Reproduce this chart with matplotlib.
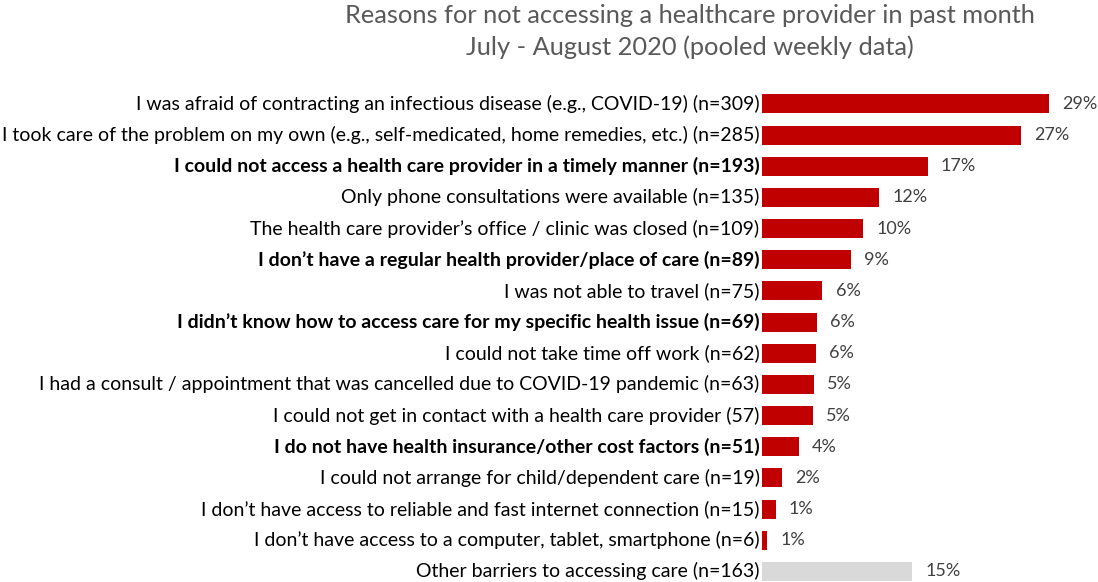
import numpy as np
import matplotlib
matplotlib.use('Agg')
import matplotlib.pyplot as plt

# data
reasons = [
    'I was afraid of contracting an infectious disease (e.g., COVID-19) (n=309)',
    'I took care of the problem on my own (e.g., self-medicated, home remedies, etc.) (n=285)',
    'I could not access a health care provider in a timely manner (n=193)',
    'Only phone consultations were available (n=135)',
    'The health care provider\u2019s office / clinic was closed (n=109)',
    'I don\u2019t have a regular health provider/place of care (n=89)',
    'I was not able to travel (n=75)',
    'I didn\u2019t know how to access care for my specific health issue (n=69)',
    'I could not take time off work (n=62)',
    'I had a consult / appointment that was cancelled due to COVID-19 pandemic (n=63)',
    'I could not get in contact with a health care provider (57)',
    'I do not have health insurance/other cost factors (n=51)',
    'I could not arrange for child/dependent care (n=19)',
    'I don\u2019t have access to reliable and fast internet connection (n=15)',
    'I don\u2019t have access to a computer, tablet, smartphone (n=6)',
    'Other barriers to accessing care (n=163)',
]
values = [29.4, 26.6, 17.0, 12.0, 10.4, 9.1, 6.2, 5.6, 5.5, 5.3, 5.2, 3.8, 2.05, 1.4, 0.5, 15.4]
pct_labels = ['29%', '27%', '17%', '12%', '10%', '9%', '6%', '6%', '6%', '5%', '5%',
              '4%', '2%', '1%', '1%', '15%']
bold_rows = [2, 5, 7, 11]
other_rows = [15]

title = 'Reasons for not accessing a healthcare provider in past month\nJuly - August 2020 (pooled weekly data)'

plt.rcParams['font.family'] = ['Lato', 'DejaVu Sans']

fig = plt.figure(figsize=(10.98, 5.82), dpi=100)
# axes placed so bars start right after the category labels
ax = fig.add_axes([762/1098, 0.0, 1 - 762/1098, (582 - 88.4)/582])

y = np.arange(len(values))
colors = ['#d9d9d9' if i in other_rows else '#c00000' for i in y]
ax.barh(y, values, height=0.61, color=colors, edgecolor='none')

ax.set_xlim(0, 336/9.75)
ax.set_ylim(len(values) - 0.66, -0.5)
ax.axis('off')

for i, (v, lab, r) in enumerate(zip(values, pct_labels, reasons)):
    ax.text(v + 1.35, i, lab, va='center', ha='left', fontsize=13, color='#404040')
    ax.text(-0.25, i, r, va='center', ha='right', fontsize=14, color='black',
            fontweight='bold' if i in bold_rows else 'normal')

fig.text(690/1098, 1 - 31.5/582, title, ha='center', va='center', fontsize=18.3,
         color='#595959', linespacing=1.4)

fig.savefig('out.png', dpi=100)
